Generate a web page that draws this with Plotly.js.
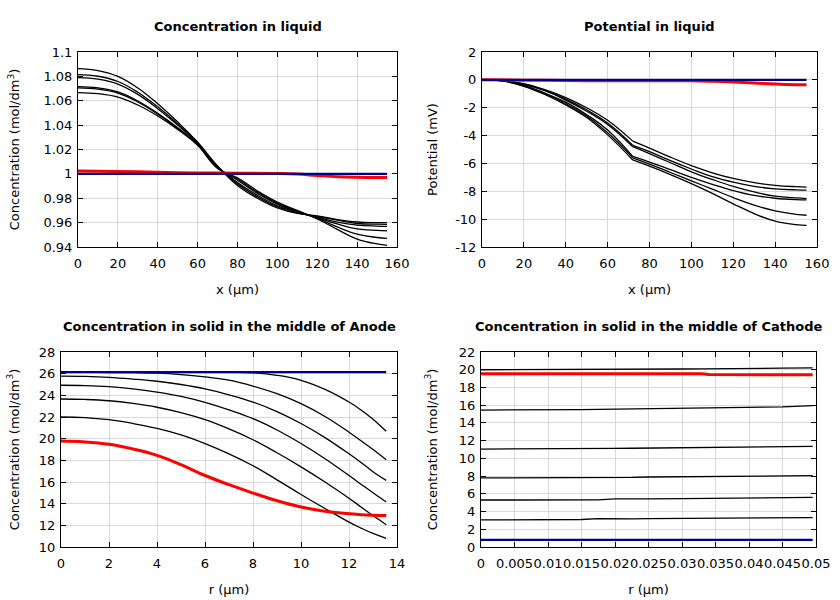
<!DOCTYPE html>
<html>
<head>
<meta charset="utf-8">
<script src="https://cdn.plot.ly/plotly-3.0.1.min.js"></script>
<style>html,body{margin:0;padding:0;background:#fff;}#chart{width:840px;height:600px;}</style>
</head>
<body>
<div id="chart"></div>
<script>
// ---------- Concentration in liquid ----------
const xLiq = [0,10,20,30,40,50,60,70,80,90,100,110,120,130,140,150,155];
const cLiq1 = [1.0864,1.0848,1.080,1.0705,1.0575,1.0425,1.026,1.0065,0.9905,0.980,0.972,0.9675,0.9655,0.9625,0.9605,0.960,0.960];
const cLiq2 = [1.0815,1.0801,1.0758,1.067,1.055,1.041,1.0255,1.006,0.9918,0.9812,0.9728,0.968,0.965,0.962,0.9593,0.9587,0.9586];
const cLiq3 = [1.079,1.0777,1.0737,1.0652,1.0535,1.040,1.025,1.0058,0.993,0.9825,0.9738,0.9685,0.9645,0.9605,0.958,0.9572,0.957];
const cLiq4 = [1.0716,1.0705,1.0672,1.0598,1.0497,1.0378,1.0242,1.005,0.9948,0.984,0.975,0.969,0.964,0.959,0.9548,0.9537,0.9533];
const cLiq5 = [1.0705,1.0695,1.0663,1.059,1.049,1.0372,1.024,1.0048,0.9958,0.985,0.9758,0.9695,0.9635,0.9565,0.9505,0.9478,0.947];
const cLiq6 = [1.0667,1.0658,1.063,1.0565,1.0475,1.0365,1.0235,1.0045,0.9968,0.986,0.9768,0.970,0.963,0.9545,0.9465,0.9425,0.9414];
const xLiqRed = [0,20,40,60,80,100,110,120,130,140,150,155];
const cLiqRed = [1.0023,1.002,1.0013,1.0008,1.0006,1.0003,0.9998,0.9987,0.9977,0.9972,0.997,0.997];
const xLiqBlue = [0,155];
const cLiqBlue = [1.0,1.0];

// ---------- Potential in liquid (kink at the separator boundary, x = 72) ----------
const xPot = [0,10,20,30,40,50,60,72,80,90,100,110,120,130,140,150,155];
const pot1 = [0,-0.05,-0.28,-0.7,-1.27,-2.0,-2.9,-4.4,-4.9,-5.55,-6.15,-6.67,-7.08,-7.38,-7.57,-7.67,-7.7];
const pot2 = [0,-0.05,-0.3,-0.75,-1.38,-2.15,-3.1,-4.7,-5.15,-5.8,-6.4,-6.95,-7.35,-7.65,-7.82,-7.9,-7.92];
const pot3 = [0,-0.06,-0.32,-0.78,-1.45,-2.25,-3.2,-4.8,-5.3,-5.95,-6.6,-7.15,-7.65,-8.05,-8.35,-8.48,-8.52];
const pot4 = [0,-0.07,-0.4,-0.95,-1.6,-2.5,-3.6,-5.5,-5.9,-6.45,-7.0,-7.5,-7.95,-8.3,-8.5,-8.6,-8.62];
const pot5 = [0,-0.08,-0.43,-1.0,-1.7,-2.6,-3.8,-5.6,-6.05,-6.65,-7.25,-7.85,-8.45,-9.0,-9.4,-9.65,-9.72];
const pot6 = [0,-0.09,-0.46,-1.05,-1.8,-2.7,-3.95,-5.75,-6.2,-6.8,-7.45,-8.15,-8.9,-9.6,-10.15,-10.4,-10.45];
const potKinkIndex = 7;
const xPotRed = [0,20,40,60,80,100,110,120,130,140,150,155];
const potRed = [0,-0.02,-0.05,-0.06,-0.06,-0.07,-0.1,-0.15,-0.22,-0.3,-0.35,-0.36];
const xPotBlue = [0,155];
const potBlue = [0,0];
const potTickVals = [2,0,-2,-4,-6,-8,-10,-12];
const potTickText = ['2','0','-2','-4','-6','-8','-10','-12'];

// ---------- Concentration in solid, Anode ----------
const rAn = [0,1,2,3,4,5,6,7,8,9,10,11,12,12.5,13,13.55];
const an1 = [26.15,26.15,26.15,26.15,26.15,26.15,26.14,26.12,26.08,25.85,25.39,24.55,23.38,22.65,21.8,20.68];
const an2 = [26.12,26.12,26.11,26.09,26.05,25.92,25.7,25.4,24.86,24.15,23.23,22.05,20.6,19.8,19.0,18.06];
const an3 = [25.78,25.75,25.66,25.5,25.3,25.0,24.6,24.05,23.38,22.5,21.4,20.1,18.6,17.8,16.95,16.15];
const an4 = [24.93,24.9,24.8,24.6,24.3,23.9,23.35,22.65,21.85,20.8,19.55,18.15,16.6,15.8,15.0,14.15];
const an5 = [23.66,23.62,23.5,23.25,22.9,22.4,21.75,20.9,19.9,18.7,17.4,16.0,14.5,13.7,12.9,12.06];
const an6 = [22.0,21.95,21.75,21.4,20.95,20.35,19.55,18.6,17.5,16.2,14.85,13.55,12.3,11.75,11.25,10.8];
const anRed = [19.78,19.7,19.48,19.05,18.46,17.6,16.6,15.75,14.98,14.27,13.69,13.3,13.07,12.98,12.93,12.9];
const rAnBlue = [0,13.55];
const anBlue = [26.15,26.15];

// ---------- Concentration in solid, Cathode ----------
const rCa = [0,0.005,0.0075,0.01,0.0125,0.015,0.0175,0.02,0.0225,0.025,0.03,0.033,0.034,0.04,0.045,0.0495];
const ca1 = [20.0,20.0,20.0,20.0,20.0,20.0,20.0,20.02,20.02,20.05,20.08,20.1,20.1,20.15,20.18,20.22];
const caRed = [19.55,19.55,19.55,19.55,19.55,19.55,19.55,19.55,19.55,19.55,19.55,19.55,19.45,19.43,19.43,19.42];
const ca2 = [15.45,15.45,15.5,15.42,15.5,15.5,15.52,15.55,15.57,15.6,15.65,15.68,15.7,15.75,15.82,15.95];
const ca3 = [11.05,11.05,11.05,11.05,11.06,11.08,11.1,11.12,11.14,11.16,11.2,11.22,11.23,11.27,11.3,11.35];
const ca4 = [7.8,7.8,7.8,7.8,7.8,7.8,7.82,7.87,7.85,7.9,7.93,7.95,7.96,7.98,8.0,8.05];
const ca5 = [5.3,5.3,5.3,5.3,5.3,5.3,5.32,5.42,5.38,5.42,5.45,5.46,5.47,5.5,5.55,5.6];
const ca6 = [3.05,3.05,3.05,3.05,3.05,3.1,3.2,3.15,3.18,3.2,3.22,3.24,3.25,3.27,3.3,3.32];
const rCaBlue = [0,0.0495];
const caBlue = [0.8,0.8];

const titles = ['Concentration in liquid','Potential in liquid',
  'Concentration in solid in the middle of Anode','Concentration in solid in the middle of Cathode'];

const FONT = 'DejaVu Sans, Arial, sans-serif';
const BLACK = '#000000', RED = '#ff0000', BLUE = '#00008b';

function blk(x, y, xa, ya) {
  return {x:x, y:y, xaxis:xa, yaxis:ya, mode:'lines', type:'scatter',
    line:{color:BLACK, width:1.3, shape:'spline', smoothing:1.2}, showlegend:false, hoverinfo:'skip'};
}
function red(x, y, xa, ya) {
  return {x:x, y:y, xaxis:xa, yaxis:ya, mode:'lines', type:'scatter',
    line:{color:RED, width:3, shape:'spline', smoothing:1.2}, showlegend:false, hoverinfo:'skip'};
}
function blue(x, y, xa, ya) {
  return {x:x, y:y, xaxis:xa, yaxis:ya, mode:'lines', type:'scatter',
    line:{color:BLUE, width:2.2}, showlegend:false, hoverinfo:'skip'};
}
function lin(t){ t.line.shape='linear'; return t; }

const data = [];
[cLiq1,cLiq2,cLiq3,cLiq4,cLiq5,cLiq6].forEach(c => data.push(blk(xLiq, c, 'x', 'y')));
data.push(red(xLiqRed, cLiqRed, 'x', 'y'));
data.push(blue(xLiqBlue, cLiqBlue, 'x', 'y'));
[pot1,pot2,pot3,pot4,pot5,pot6].forEach(c => {
  data.push(blk(xPot.slice(0, potKinkIndex+1), c.slice(0, potKinkIndex+1), 'x2', 'y2'));
  data.push(blk(xPot.slice(potKinkIndex), c.slice(potKinkIndex), 'x2', 'y2'));
});
data.push(red(xPotRed, potRed, 'x2', 'y2'));
data.push(blue(xPotBlue, potBlue, 'x2', 'y2'));
[an1,an2,an3,an4,an5,an6].forEach(c => data.push(blk(rAn, c, 'x3', 'y3')));
data.push(red(rAn, anRed, 'x3', 'y3'));
data.push(blue(rAnBlue, anBlue, 'x3', 'y3'));
[ca1,ca2,ca3,ca4,ca5,ca6].forEach(c => data.push(lin(blk(rCa, c, 'x4', 'y4'))));
data.push(lin(red(rCa, caRed, 'x4', 'y4')));
data.push(blue(rCaBlue, caBlue, 'x4', 'y4'));

function ax(extra) {
  return Object.assign({
    showline:true, linecolor:'#000', linewidth:1, mirror:'ticks',
    ticks:'inside', ticklen:5, tickwidth:1, tickcolor:'#000',
    showgrid:true, gridcolor:'#d9d9d9', gridwidth:1, zeroline:false,
    tickfont:{family:FONT, size:13, color:'#000'}, tickangle:0,
    automargin:false, fixedrange:true
  }, extra);
}
const W = 840, H = 600;
function dx(a,b){ return [a/W, b/W]; }
function dy(top,bottom){ return [1-bottom/H, 1-top/H]; }
const tf = {family:FONT, size:13, color:'#000'};

const layout = {
  width:W, height:H, margin:{l:0,r:0,t:0,b:0,pad:0},
  paper_bgcolor:'#fff', plot_bgcolor:'#fff',
  font:{family:FONT, size:13, color:'#000'},
  xaxis: ax({domain:dx(78,397), anchor:'y', range:[0,160], dtick:20, tick0:0, ticklabelstandoff:4,
    title:{text:'x (µm)', font:tf, standoff:15}}),
  yaxis: ax({domain:dy(52,247), anchor:'x', range:[0.94,1.1], dtick:0.02, tick0:0.94, ticklabelstandoff:2,
    title:{text:'Concentration (mol/dm<sup>3</sup>)', font:tf, standoff:20}}),
  xaxis2: ax({domain:dx(482,817), anchor:'y2', range:[0,160], dtick:20, tick0:0, ticklabelstandoff:4,
    title:{text:'x (µm)', font:tf, standoff:15}}),
  yaxis2: ax({domain:dy(52,247), anchor:'x2', range:[-12,2], tickvals:potTickVals, ticktext:potTickText, ticklabelstandoff:2,
    title:{text:'Potential (mV)', font:tf, standoff:14}}),
  xaxis3: ax({domain:dx(61,397), anchor:'y3', range:[0,14], dtick:2, tick0:0, ticklabelstandoff:4,
    title:{text:'r (µm)', font:tf, standoff:15}}),
  yaxis3: ax({domain:dy(352,547), anchor:'x3', range:[10,28], dtick:2, tick0:10, ticklabelstandoff:2,
    title:{text:'Concentration (mol/dm<sup>3</sup>)', font:tf, standoff:16}}),
  xaxis4: ax({domain:dx(481,816), anchor:'y4', range:[0,0.05], dtick:0.005, tick0:0, ticklabelstandoff:4,
    title:{text:'r (µm)', font:tf, standoff:15}}),
  yaxis4: ax({domain:dy(352,547), anchor:'x4', range:[0,22], dtick:2, tick0:0, ticklabelstandoff:2,
    title:{text:'Concentration (mol/dm<sup>3</sup>)', font:tf, standoff:18}}),
  annotations: titles.map((t,i) => ({
    text:'<b>'+t+'</b>', showarrow:false,
    xref:(i===0?'x':'x'+(i+1))+' domain', yref:(i===0?'y':'y'+(i+1))+' domain',
    x:0.5, y:1, xanchor:'center', yanchor:'middle', yshift:26,
    font:{family:FONT, size:13, color:'#000'}
  }))
};

Plotly.newPlot('chart', data, layout, {staticPlot:true, displayModeBar:false});
</script>
</body>
</html>
